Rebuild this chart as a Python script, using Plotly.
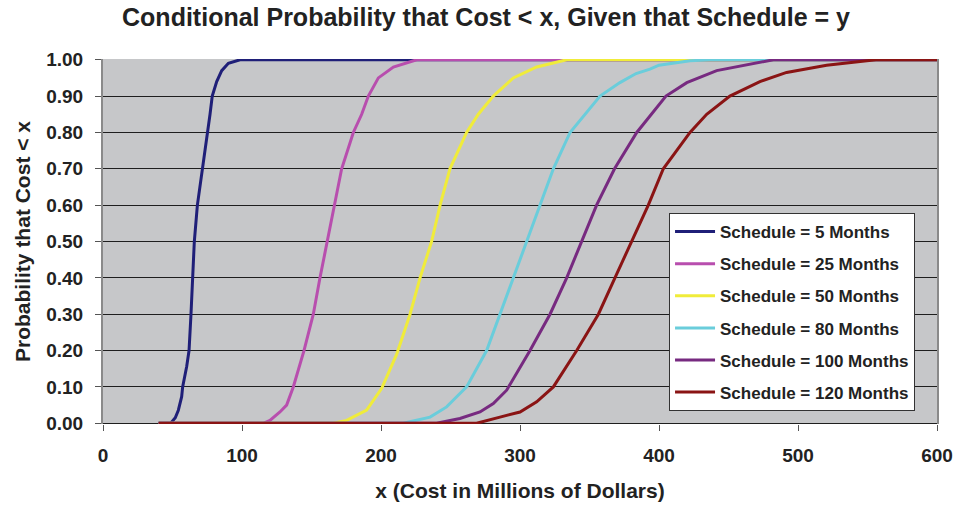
import plotly.graph_objects as go

# ---- data ----
series_names = ["Schedule = 5 Months", "Schedule = 25 Months", "Schedule = 50 Months",
                "Schedule = 80 Months", "Schedule = 100 Months", "Schedule = 120 Months"]

x_5 = [40, 48.7, 52, 54.2, 56.6, 57.3, 60.2, 61.9, 63.3, 64.3, 65.7, 67.9, 71.7, 75.3, 77, 78.6, 81.8, 85.4, 90.2, 98.6, 600]
y_5 = [0, 0, 0.015, 0.036, 0.073, 0.10, 0.156, 0.20, 0.30, 0.40, 0.50, 0.60, 0.70, 0.80, 0.85, 0.90, 0.94, 0.97, 0.99, 1.0, 1.0]

x_25 = [40, 115.3, 120.1, 127.3, 132.1, 136.9, 144.6, 151.3, 156.1, 161.4, 166.4, 171.7, 180.1, 186.1, 190.9, 198.1, 208.9, 225.7, 600]
y_25 = [0, 0, 0.008, 0.031, 0.05, 0.10, 0.20, 0.30, 0.40, 0.50, 0.60, 0.70, 0.80, 0.85, 0.90, 0.95, 0.98, 1.0, 1.0]

x_50 = [40, 165.7, 175.3, 189.7, 200.5, 211.3, 220.9, 228.1, 236.4, 242.5, 249.6, 261.6, 270, 280.8, 295.2, 312, 333.6, 600]
y_50 = [0, 0, 0.008, 0.036, 0.096, 0.19, 0.30, 0.40, 0.50, 0.60, 0.70, 0.80, 0.85, 0.90, 0.95, 0.98, 1.0, 1.0]

x_80 = [40, 216, 235.3, 247.2, 256.8, 261.6, 276, 285.6, 295.2, 304.8, 314.4, 324, 336, 357.6, 371.9, 383.5, 393.5, 400, 422.3, 436.8, 600]
y_80 = [0, 0, 0.017, 0.045, 0.082, 0.10, 0.20, 0.30, 0.40, 0.50, 0.60, 0.70, 0.80, 0.90, 0.937, 0.962, 0.974, 0.985, 0.997, 1.0, 1.0]

x_100 = [40, 240, 256.8, 271.2, 280.8, 290.4, 307.2, 321.6, 333.6, 344.4, 355.1, 368, 384, 405, 420, 441.5, 465.5, 482.3, 600]
y_100 = [0, 0, 0.013, 0.031, 0.054, 0.091, 0.20, 0.30, 0.40, 0.50, 0.60, 0.70, 0.80, 0.90, 0.937, 0.97, 0.988, 1.0, 1.0]

x_120 = [40, 268.8, 285.6, 300, 312, 319.2, 324, 340.8, 356.4, 368.3, 380.3, 392.3, 403.1, 422.3, 434.3, 451, 472.6, 491.8, 520.6, 544.6, 556, 600]
y_120 = [0, 0, 0.017, 0.031, 0.059, 0.082, 0.10, 0.20, 0.30, 0.40, 0.50, 0.60, 0.70, 0.80, 0.85, 0.90, 0.94, 0.965, 0.985, 0.995, 1.0, 1.0]

x_ticks = [0, 100, 200, 300, 400, 500, 600]
y_ticks = [0.0, 0.1, 0.2, 0.3, 0.4, 0.5, 0.6, 0.7, 0.8, 0.9, 1.0]
y_tick_labels = ["0.00", "0.10", "0.20", "0.30", "0.40", "0.50", "0.60", "0.70", "0.80", "0.90", "1.00"]

colors = ["#1F1F78", "#B84EAE", "#F0EC3A", "#6ACDDB", "#772A80", "#8A1414"]

xs = [x_5, x_25, x_50, x_80, x_100, x_120]
ys = [y_5, y_25, y_50, y_80, y_100, y_120]

FONT = "Liberation Sans, Arial, sans-serif"

fig = go.Figure()
for i, (name, xv, yv, c) in enumerate(zip(series_names, xs, ys, colors)):
    fig.add_trace(go.Scatter(x=xv, y=yv, mode="lines", name=name,
                             legendgroup=f"g{i}",
                             line=dict(color=c, width=3)))

fig.update_layout(
    width=972, height=505,
    margin=dict(l=103, r=35, t=59, b=81),
    paper_bgcolor="white",
    plot_bgcolor="#C6C7C9",
    font=dict(family=FONT, size=19, color="#222222", weight="bold"),
    title=dict(text="Conditional Probability that Cost < x, Given that Schedule = y",
               x=0.5, xref="container", xanchor="center",
               y=1 - 17 / 505, yref="container", yanchor="middle",
               font=dict(family=FONT, size=25, color="#222222", weight="bold")),
    showlegend=True,
    legend=dict(x=0.6787, y=0.578, xanchor="left", yanchor="top",
                bgcolor="white", bordercolor="#333333", borderwidth=1,
                font=dict(family=FONT, size=17, color="#222222", weight="bold"),
                tracegroupgap=7, itemwidth=40),
    xaxis=dict(range=[0, 600], tickvals=x_ticks, ticktext=[str(v) for v in x_ticks],
               showgrid=False, zeroline=False, showline=False, automargin=False,
               ticks="outside", ticklen=6, tickcolor="#555555", ticklabelstandoff=8,
               title=dict(text="x (Cost in Millions of Dollars)", standoff=18,
                          font=dict(family=FONT, size=21, color="#222222", weight="bold"))),
    yaxis=dict(range=[-0.002, 1.002], tickvals=y_ticks, ticktext=y_tick_labels,
               showgrid=True, gridcolor="#1E1E1E", gridwidth=1, automargin=False,
               zeroline=True, zerolinecolor="#1E1E1E", zerolinewidth=1,
               showline=True, linecolor="#8A8A8A", linewidth=2, mirror=True,
               ticks="outside", ticklen=6, tickcolor="#555555", ticklabelstandoff=8,
               title=dict(text="Probability that Cost < x", standoff=10,
                          font=dict(family=FONT, size=21, color="#222222", weight="bold"))),
)

fig.write_html("out.html", config={"displayModeBar": False},
               post_script="document.body.style.margin='0';document.body.style.overflow='hidden';")
